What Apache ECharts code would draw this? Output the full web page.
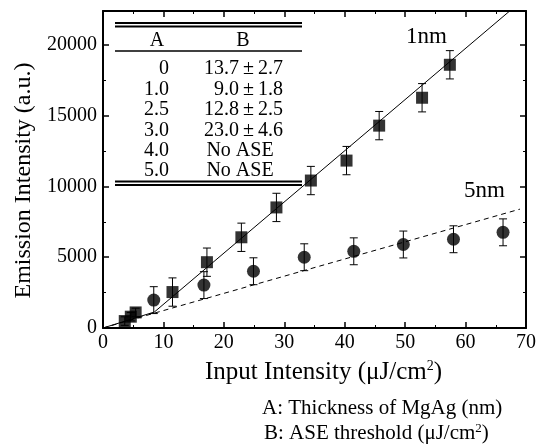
<!DOCTYPE html>
<html><head><meta charset="utf-8">
<script src="https://cdn.jsdelivr.net/npm/echarts@6/dist/echarts.min.js"></script>
<style>html,body{margin:0;padding:0;background:#fff}#c{width:539px;height:444px}</style>
</head><body><div id="c"></div>
<script>
// ---- data ----
const x1nm = [3.6, 4.6, 5.4, 11.5, 17.2, 22.9, 28.7, 34.4, 40.3, 45.7, 52.8, 57.4];
const y1nm = [490, 800, 1100, 2540, 4650, 6410, 8520, 10420, 11830, 14300, 16270, 18600];
const e1nm = [300, 300, 300, 1000, 1000, 1000, 1000, 1000, 1000, 1000, 1000, 1000];
const x5nm = [8.4, 16.7, 24.9, 33.3, 41.5, 49.7, 58.0, 66.2];
const y5nm = [1970, 3030, 4010, 5000, 5420, 5900, 6270, 6760];
const e5nm = [950, 950, 950, 950, 950, 950, 950, 950];
const fit1nmX = [0, 8.5, 67.3];
const fit1nmY = [0, 1130, 22400];
const fit5nmX = [0, 8.5, 69];
const fit5nmY = [0, 1050, 8400];
const colA = ['0', '1.0', '2.5', '3.0', '4.0', '5.0'];
const colB = ['13.7\u2009\u00B1\u20092.7', '9.0\u2009\u00B1\u20091.8', '12.8\u2009\u00B1\u20092.5', '23.0\u2009\u00B1\u20094.6', 'No ASE', 'No ASE'];

const FONT = '"Liberation Serif", "Times New Roman", serif';
const pairs = (xs, ys) => xs.map((x, i) => [x, ys[i]]);
const errData = (xs, ys, es) => xs.map((x, i) => [x, ys[i] - es[i], ys[i] + es[i]]);

function errRender(params, api) {
  const x = api.value(0);
  const lo = api.coord([x, api.value(1)]);
  const hi = api.coord([x, api.value(2)]);
  const w = 4;
  const st = { stroke: '#000', lineWidth: 1 };
  return { type: 'group', children: [
    { type: 'line', shape: { x1: lo[0], y1: lo[1], x2: hi[0], y2: hi[1] }, style: st },
    { type: 'line', shape: { x1: lo[0] - w, y1: lo[1], x2: lo[0] + w, y2: lo[1] }, style: st },
    { type: 'line', shape: { x1: hi[0] - w, y1: hi[1], x2: hi[0] + w, y2: hi[1] }, style: st }
  ]};
}

// table graphics
const tbl = [];
const tl = 115, tr = 302;
const hline = (y, w) => ({ type: 'line', shape: { x1: tl, y1: y, x2: tr, y2: y }, style: { stroke: '#000', lineWidth: w } });
tbl.push(hline(23, 2), hline(26.5, 2), hline(51, 1.5), hline(181.5, 2), hline(185, 2));
const txt = (s, x, y, align, size) => ({ type: 'text', x: x, y: y, style: { text: s, font: (size || 20) + 'px ' + FONT, fill: '#000', textAlign: align, textVerticalAlign: 'middle' } });
tbl.push(txt('A', 157, 41, 'center'), txt('B', 243, 41, 'center'));
const rowY = [69, 89.5, 110, 130.5, 151, 171];
colA.forEach((s, i) => tbl.push(txt(s, 169, rowY[i], 'right')));
colB.forEach((s, i) => {
  if (s === 'No ASE') tbl.push(txt(s, 240, rowY[i], 'center'));
  else tbl.push(txt(s, 283, rowY[i], 'right'));
});
tbl.push(txt('1nm', 406, 37, 'left', 23), txt('5nm', 464, 191, 'left', 23));
tbl.push({ type: 'text', x: 262, y: 408, style: { rich: { n: { font: '21px ' + FONT, fill: '#000' } }, text: '{n|A: Thickness of MgAg (nm)}', textVerticalAlign: 'middle' } });
tbl.push({ type: 'text', x: 264, y: 433, style: { rich: { n: { font: '21px ' + FONT, fill: '#000' }, s: { font: '13px ' + FONT, fill: '#000', verticalAlign: 'top', padding: [0, 0, 8, 0] } }, text: '{n|B: ASE threshold (\u03BCJ/cm}{s|2}{n|)}', textVerticalAlign: 'middle' } });

const chart = echarts.init(document.getElementById('c'));
const axisCommon = () => ({
  axisLine: { onZero: false, lineStyle: { color: '#000', width: 2 } },
  axisTick: { inside: true, length: 6, lineStyle: { color: '#000', width: 1.5 } },
  minorTick: { show: true, splitNumber: 2, length: 3, lineStyle: { color: '#000', width: 1 } },
  splitLine: { show: false }
});
const lbl = { color: '#000', fontFamily: FONT, fontSize: 20, formatter: v => String(v) };
chart.setOption({
  animation: false,
  grid: { left: 103, right: 9, top: 11, bottom: 116 },
  xAxis: [
    Object.assign({ type: 'value', min: 0, max: 70, interval: 10, position: 'bottom',
      axisLabel: Object.assign({ margin: 5 }, lbl),
      name: 'Input Intensity (\u03BCJ/cm{s|2})', nameLocation: 'middle', nameGap: 31,
      nameTextStyle: { color: '#000', fontFamily: FONT, fontSize: 25, padding: [0, 0, 0, 18],
        rich: { s: { fontFamily: FONT, fontSize: 14, verticalAlign: 'top', padding: [0, 0, 12, 0] } } } }, axisCommon()),
    Object.assign({ type: 'value', min: 0, max: 70, interval: 10, position: 'top', axisLabel: { show: false } }, axisCommon())
  ],
  yAxis: [
    Object.assign({ type: 'value', min: 0, max: 22400, interval: 5000, position: 'left',
      axisLabel: Object.assign({ margin: 6, showMaxLabel: false }, lbl),
      name: 'Emission Intensity (a.u.)', nameLocation: 'middle', nameGap: 64,
      nameTextStyle: { color: '#000', fontFamily: FONT, fontSize: 24, padding: [0, 22, 0, 0] } }, axisCommon()),
    Object.assign({ type: 'value', min: 0, max: 22400, interval: 5000, position: 'right', axisLabel: { show: false } }, axisCommon())
  ],
  graphic: tbl,
  series: [
    { type: 'line', data: pairs(fit1nmX, fit1nmY), symbol: 'none', lineStyle: { color: '#000', width: 1 }, z: 2 },
    { type: 'line', data: pairs(fit5nmX, fit5nmY), symbol: 'none', lineStyle: { color: '#000', width: 1, type: [5, 4] }, z: 2 },
    { type: 'custom', data: errData(x1nm, y1nm, e1nm), renderItem: errRender, z: 3 },
    { type: 'custom', data: errData(x5nm, y5nm, e5nm), renderItem: errRender, z: 3 },
    { type: 'scatter', data: pairs(x1nm, y1nm), symbol: 'rect', symbolSize: 12, itemStyle: { color: '#000' }, z: 4 },
    { type: 'scatter', data: pairs(x5nm, y5nm), symbol: 'circle', symbolSize: 13, itemStyle: { color: '#000' }, z: 4 }
  ]
});
</script></body></html>
